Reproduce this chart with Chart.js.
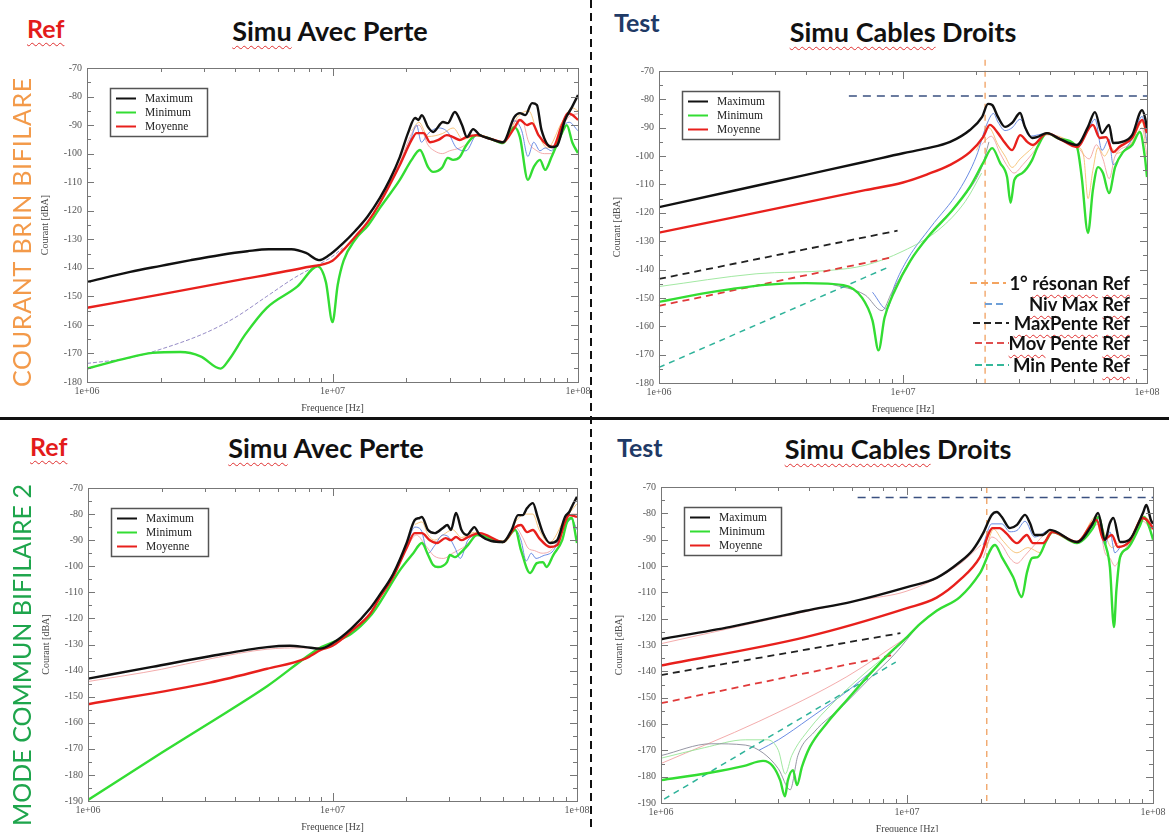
<!DOCTYPE html>
<html>
<head>
<meta charset="utf-8">
<script src="https://cdn.jsdelivr.net/npm/chart.js@4"></script>
<style>
  html, body { margin: 0; padding: 0; background: #fff; }
  body { width: 1169px; height: 832px; position: relative; overflow: hidden; font-family: Lato, "Open Sans", sans-serif; }
  .panel { position: absolute; }
  .txt { position: absolute; white-space: nowrap; font-weight: bold; transform: translateY(-50%); }
  .ctr { transform: translate(-50%, -50%); }
  .ttl { font-size: 27px; color: #111; }
  .ref { font-size: 25px; color: #e31b1b; }
  .tst { font-size: 25px; color: #1f3a66; }
  .sp { text-decoration: underline wavy #e03030; text-decoration-thickness: 1px; text-underline-offset: 4px; text-decoration-skip-ink: none; }
  .vert { position: absolute; white-space: nowrap; font-size: 25px; transform: translate(-50%, -50%) rotate(-90deg); }
  .leg { position: absolute; right: 39px; font-size: 18.5px; font-weight: bold; color: #111; transform: translateY(-50%); white-space: nowrap; }
  .smp { position: absolute; height: 2px; }
</style>
</head>
<body>

<div class="panel" id="p1"><canvas></canvas></div>
<div class="panel" id="p2"><canvas></canvas></div>
<div class="panel" id="p3"><canvas></canvas></div>
<div class="panel" id="p4"><canvas></canvas></div>

<!-- page decoration -->
<div style="position:absolute;left:0;top:417px;width:1169px;height:3px;background:#111"></div>
<div style="position:absolute;left:590px;top:0;width:2px;height:832px;background:repeating-linear-gradient(180deg,#111 0 8px,transparent 8px 13px)"></div>

<div class="txt ref" style="left:27px;top:28px"><span class="sp">Ref</span></div>
<div class="txt ttl ctr" style="left:330px;top:30px"><span class="sp">Simu</span> Avec Perte</div>
<div class="txt tst" style="left:614px;top:22px">Test</div>
<div class="txt ttl ctr" style="left:903px;top:31px"><span class="sp">Simu Cables</span> Droits</div>

<div class="txt ref" style="left:30px;top:446px"><span class="sp">Ref</span></div>
<div class="txt ttl ctr" style="left:326px;top:447px"><span class="sp">Simu</span> Avec Perte</div>
<div class="txt tst" style="left:617px;top:447px">Test</div>
<div class="txt ttl ctr" style="left:898px;top:448px"><span class="sp">Simu Cables</span> Droits</div>

<div class="vert" style="left:21px;top:232px;color:#f39a4a;letter-spacing:0.7px">COURANT BRIN BIFILARE</div>
<div class="vert" style="left:21px;top:655px;color:#1ea54c">MODE COMMUN BIFILAIRE 2</div>

<!-- reference-level legend, top right panel -->
<div class="smp" style="left:970px;top:282px;width:36px;background:repeating-linear-gradient(90deg,#f4a460 0 7px,transparent 7px 11px)"></div>
<div class="leg" style="top:283px">1° <span class="sp">résonan</span> <span class="sp">Ref</span></div>
<div class="smp" style="left:985px;top:303px;width:22px;background:repeating-linear-gradient(90deg,#6fa0d8 0 7px,transparent 7px 11px)"></div>
<div class="leg" style="top:304px"><span class="sp">Niv</span> Max <span class="sp">Ref</span></div>
<div class="smp" style="left:973px;top:322px;width:36px;background:repeating-linear-gradient(90deg,#222 0 7px,transparent 7px 11px)"></div>
<div class="leg" style="top:323px"><span class="sp">MaxPente</span> <span class="sp">Ref</span></div>
<div class="smp" style="left:975px;top:342px;width:34px;background:repeating-linear-gradient(90deg,#e05050 0 7px,transparent 7px 11px)"></div>
<div class="leg" style="top:343px"><span class="sp">Mov</span> Pente <span class="sp">Ref</span></div>
<div class="smp" style="left:975px;top:364px;width:34px;background:repeating-linear-gradient(90deg,#35b89a 0 7px,transparent 7px 11px)"></div>
<div class="leg" style="top:365px">Min Pente <span class="sp">Ref</span></div>

<script>
// frequencies in MHz, levels in dBA: [f, dB]

// --- Ref / Simu Avec Perte / Courant brin bifilaire ---
const brinRefMax = [[1,-145],[1.5,-141.4],[2,-139.3],[2.65,-137.3],[3.5,-135.5],[4.5,-134.2],[5.5,-133.5],[6.8,-133.5],[7.8,-134.8],[8.8,-137.3],[9.6,-135.8],[11,-131.5],[12.4,-127],[13.9,-122],[15.6,-115.5],[17.1,-109.2],[18.8,-101.2],[20.3,-92.8],[21.7,-87.5],[22.4,-88.2],[23.1,-86.5],[24.5,-90.7],[25.7,-92.4],[28.2,-88.9],[29.5,-89.3],[31.5,-85.4],[33.7,-90],[35.3,-94.2],[37.4,-91.4],[39.8,-93.5],[44,-94.8],[49.5,-96],[55,-87.2],[58,-85.8],[61,-86.5],[65,-82.3],[68,-83],[71,-91.7],[78,-97.7],[82,-97.3],[88.5,-88.2],[94.5,-83.7],[100,-79.5]];
const brinRefMin = [[1,-175.3],[1.4,-172],[1.85,-169.8],[2.4,-169.5],[2.9,-171],[3.5,-175.3],[3.8,-172],[4.4,-163.5],[5.4,-154],[7.2,-146.5],[8.7,-139.5],[9.4,-145],[10,-159],[10.5,-146],[11.1,-137.5],[12.4,-130],[14,-125],[15.6,-119],[18.8,-109.2],[21,-102.2],[22.7,-98.7],[24.5,-104.7],[25.7,-106.4],[27.9,-105],[29.5,-101.5],[31,-102.2],[33,-101.2],[34.7,-97.7],[37,-94.5],[38.7,-93.5],[44,-94.8],[49.5,-96.3],[55,-90.7],[58,-94.2],[62.5,-109.2],[66,-104.7],[70,-102.2],[73.5,-105.7],[78,-101.2],[86,-92.8],[90,-90],[95,-96.3],[100,-99.8]];
const brinRefMoy = [[1,-154],[2,-149.3],[4,-144.5],[7.8,-139.8],[10,-137.5],[11,-134],[12.4,-129],[13.9,-124],[15.6,-117.3],[18.8,-104],[21,-95.2],[22,-92.8],[23.5,-92.8],[25,-96],[27,-95.2],[29.2,-93.5],[31,-94.2],[33,-95.2],[35,-94.2],[38.7,-93.5],[44,-94.8],[49.5,-96],[55,-91],[58,-88.2],[62,-90],[65,-89.3],[69,-93.5],[75,-97],[79,-97.7],[86,-90],[91,-85.8],[95,-86.5],[100,-88.2]];
const brinRefLow = [[1,-173.5],[1.5,-171.5],[2,-168.5],[3,-163],[4,-157.5],[5.4,-150],[7,-143.5],[8.7,-139],[10,-136],[11,-133]];
const brinRefBlue = [[15.6,-117],[18.8,-104],[21,-94],[22,-90],[23,-96],[24.5,-93],[27,-91],[29.5,-92.5],[32,-98],[35,-99],[38.7,-93.5],[49.5,-96],[55,-88.5],[59,-92],[62.5,-101],[66,-96],[70,-99],[73.5,-98],[78,-99],[86,-91],[92,-89],[100,-92]];
const brinRefPink = [[15.6,-116],[18.8,-103],[21,-93],[22.5,-90],[24.5,-97],[26,-99],[28,-100],[30,-99],[33,-98],[36,-96],[38.7,-93.5],[49.5,-96],[55,-89],[59,-88],[63,-96],[68,-99],[73,-100],[78,-100],[86,-91],[92,-87],[100,-86]];
const brinRefOrange = [[21,-92],[22.5,-89],[24.5,-94],[28,-93],[31,-91],[34,-95],[38.7,-93.5],[49.5,-96],[57,-87],[63,-85],[68,-92],[75,-98],[86,-89],[95,-84],[100,-85]];

// --- Test / Simu Cables Droits / Courant brin bifilaire ---
const brinTestMax = [[1,-118],[2,-112.3],[4,-106.6],[7,-102],[10,-99],[12.5,-97.3],[15.6,-95],[18.8,-90.8],[21.1,-86.2],[22.3,-81.6],[23.2,-82],[24.5,-86.2],[26.2,-89.7],[28,-88.3],[30.2,-84.8],[31.6,-89.7],[33.8,-93.6],[35.4,-93.3],[38.9,-91.9],[44,-94],[51.6,-96.1],[57.3,-89.7],[61.2,-84.5],[65.4,-91.9],[69.9,-89],[72.6,-95.4],[79,-95],[86.9,-92.6],[95.5,-83.8],[98,-86.2],[100,-90.1]];
const brinTestMin = [[1,-151.4],[1.5,-148.5],[2,-146.8],[2.8,-145.3],[4,-144.8],[5.7,-145.5],[6.8,-150],[7.5,-158],[7.94,-168.5],[8.4,-157],[9.3,-147],[10.7,-137],[12.8,-128],[15.6,-120],[18.8,-110.9],[21.3,-102.4],[23.2,-97.2],[25,-102.4],[26.7,-107.4],[27.6,-116.5],[28.6,-108.4],[30.8,-106],[33.8,-101.4],[35.6,-96.8],[38.9,-91.9],[44,-94],[51.6,-96.8],[54,-107.4],[57.3,-127.1],[60,-112],[63,-103.9],[66,-106],[69.9,-113],[74,-103.9],[79.7,-98.6],[86.9,-96.1],[93.5,-91.5],[98,-100.3],[100,-107.4]];
const brinTestMoy = [[1,-127],[2,-121.7],[4,-116.3],[7,-112],[10,-109.3],[12.5,-106.5],[15.6,-103.1],[18.8,-98.6],[21.3,-93.3],[22.7,-89],[24.5,-91.9],[26.2,-95.4],[28,-97.9],[30.2,-92.6],[32.3,-95],[34,-96.1],[38.9,-91.9],[44,-94],[51.6,-96.8],[60,-89],[64,-93.6],[68,-93.3],[72.6,-98.6],[77,-96.8],[86.9,-93.6],[95.5,-87.3],[100,-91.9]];
const brinTestLtGreen = [[1,-146],[2.5,-141.5],[5,-140.3],[7,-138.5],[10,-133.5],[14,-126],[18,-116],[21,-106]];
const brinTestGrey = [[5,-145],[7,-149],[8.2,-154.5],[9,-148],[10.5,-138],[13,-127],[17,-116],[21,-104],[22.5,-95]];
const brinTestBlue = [[7.5,-148],[8.6,-154],[9.2,-146],[10.5,-136],[13,-125],[17,-112],[20,-100],[22,-89],[23.5,-85],[24.5,-88],[26.2,-91],[28,-90],[30.2,-87],[33,-93],[38.9,-92],[51.6,-96.2],[57.3,-91],[61.2,-87],[65.4,-98],[69.9,-94],[72.6,-103],[79,-99],[86.9,-94],[95.5,-86],[100,-95]];
const brinTestOrange = [[20,-98],[22.5,-90],[24.5,-96],[26.2,-100],[28,-104],[30.2,-101],[33,-98],[36,-95],[38.9,-92.3],[51.6,-96.5],[55,-100],[57.3,-115],[60,-105],[63,-97],[67,-100],[71,-97],[75,-99],[86.9,-95],[95.5,-88],[100,-96]];
const brinTestPink = [[21,-96],[23,-93],[25,-99],[27,-104],[28.5,-106],[31,-103],[34,-99],[38.9,-92.5],[51.6,-96.6],[58,-101],[62,-96],[66,-101],[70,-108],[74,-100],[86.9,-95.5],[95.5,-90],[100,-100]];
const brinSlopeMax = [[1,-143.3],[9.5,-126.3]];
const brinSlopeMoy = [[1,-152.8],[9,-135.7]];
const brinSlopeMin = [[1,-174.5],[8.8,-139]];
const brinLevelMax = [[6,-78.8],[100,-78.8]];
const brinResonance = [[21.7,-66],[21.7,-180]];

// --- Ref / Simu Avec Perte / Mode commun bifilaire 2 ---
const modeRefMax = [[1,-143.1],[1.83,-138.6],[3.15,-134.5],[5.4,-131],[6.7,-130.5],[7.75,-131],[8.9,-131.6],[10,-129.5],[11.9,-124],[14.3,-116],[15.6,-111],[17.7,-103],[20.1,-91.1],[21.7,-82.3],[22.7,-81.5],[23.2,-81.1],[24.6,-86.1],[26.2,-87.3],[28.3,-85.3],[29.5,-84.2],[30.5,-86.1],[32,-79.6],[33.7,-86.1],[35.5,-88],[37,-86.1],[38,-85],[40,-88],[49.8,-90.7],[54,-86.1],[57.4,-80.4],[60,-80.4],[62.5,-77.7],[66,-75.8],[69,-81.1],[72.6,-87.3],[77.6,-91.1],[83,-90],[89.3,-81.1],[93,-79.2],[96,-76.5],[100,-73.4]];
const modeRefMin = [[1,-189.6],[2,-171.5],[3.15,-160],[5.4,-146],[9,-131],[10,-129.2],[11.9,-126],[14.3,-119],[15.6,-114],[18.9,-101.4],[21.4,-95],[23.2,-91.1],[24.6,-95.7],[25.8,-99.5],[27,-100.3],[29.4,-98.4],[30.2,-95.7],[31.7,-96.5],[33.3,-95],[35.8,-91.9],[39,-88],[49.8,-90.7],[56,-86.1],[59,-93.8],[64.3,-102.6],[68.5,-98.8],[72.6,-98.4],[75,-100.3],[80,-95.7],[87,-90],[91,-83],[95,-81.5],[100,-91.1]];
const modeRefMoy = [[1,-152.9],[3.15,-144.6],[5.4,-139.3],[7.75,-135.4],[9,-132],[10,-130.5],[11.9,-125],[14.3,-118],[15.6,-112],[17.7,-104],[20.1,-93],[21.7,-87.3],[23.2,-87.3],[25,-90],[26.7,-91.1],[29,-89.2],[30.5,-90],[32,-88.8],[33.7,-90],[35.8,-88.8],[40,-87.3],[49.8,-90.7],[56,-85],[59,-84.2],[62.5,-86.9],[66,-86.1],[70,-89.2],[77.6,-92.6],[83,-91.9],[89,-83.4],[93,-80.4],[100,-81.1]];
const modeRefPinkLow = [[1,-144.2],[2,-139.5],[3.15,-135.5],[5.4,-131.8],[7.5,-131.3],[9,-131.3]];
const modeRefBlue = [[20.1,-92],[21.7,-85],[23,-86],[24.6,-95],[26.2,-92],[28.3,-88],[30,-89],[31.7,-93],[33.3,-97],[35.8,-90],[40,-88],[49.8,-90.7],[56,-86],[59,-90],[62,-98],[65,-95],[68,-97],[72.6,-96],[80,-94],[89,-85],[95,-82],[100,-86]];
const modeRefPink = [[20.1,-93],[22,-88],[24,-92],[26,-96],[28.5,-97],[31,-95],[34,-93],[40,-88],[49.8,-90.7],[56,-85],[60,-89],[63,-93],[67,-94],[72,-95],[80,-93],[89,-84],[95,-80],[100,-80]];
const modeRefOrange = [[21.7,-84],[23.2,-83],[24.6,-88],[26.2,-90],[28.3,-88],[31,-86],[33.7,-89],[38,-87],[49.8,-90.7],[57,-82],[62,-80],[66,-80],[70,-86],[77,-91],[89,-82],[100,-76]];

// --- Test / Simu Cables Droits / Mode commun bifilaire 2 ---
const modeTestMax = [[1,-127.8],[1.92,-123.1],[3.87,-117],[6,-113.5],[10,-108],[13.2,-104.5],[16.4,-98.5],[18.5,-93.9],[20.4,-87.5],[22.1,-80.6],[23.2,-79.5],[24.3,-81.4],[26.2,-85.6],[28,-84.4],[30.2,-80.6],[31.6,-83.7],[33.1,-88.2],[35.7,-88.2],[38.1,-86.3],[49.1,-90.9],[56.5,-84.4],[59.8,-79.9],[63.8,-90.1],[66.8,-83.7],[69,-81.8],[73.5,-90.9],[80,-90.1],[91,-79.9],[94,-76.8],[98,-82.5],[100,-84]];
const modeTestMin = [[1,-181.3],[1.58,-178.5],[2.16,-176],[2.6,-174],[2.85,-176],[3.05,-181.3],[3.19,-187.5],[3.28,-181.3],[3.44,-177.5],[3.57,-183.2],[3.74,-176.3],[4.03,-168.7],[4.73,-159.6],[5.7,-150.9],[6.88,-142.2],[8.3,-134],[10,-127],[11.3,-122],[13.2,-117],[16.4,-111.8],[19.8,-102.7],[22.8,-92],[24.3,-96.6],[27,-104.2],[29.3,-111.8],[30.7,-102.7],[32.2,-97],[34,-96.6],[37,-90.1],[39,-87.1],[49.1,-91.3],[57,-85.6],[60,-81.4],[63.8,-91.3],[66.8,-100.4],[69.4,-123.2],[71,-109.1],[73.5,-96.6],[79,-93.2],[88,-85.2],[92,-81.4],[98,-87.1],[100,-90]];
const modeTestMoy = [[1,-137.8],[3.87,-127],[10,-116],[13.2,-112],[16.4,-105.3],[19.8,-96.6],[22.3,-85.6],[23.8,-85.6],[25.3,-87.5],[28,-91.3],[30.7,-88.2],[32.5,-91.3],[35.7,-91.3],[39,-87.1],[49.1,-90.9],[59,-82.5],[63,-90.1],[68,-88.2],[72,-92.8],[80,-90.9],[91,-81.8],[98,-84.4],[100,-86]];
const modeTestPinkHigh = [[1,-129.5],[6.4,-113],[10,-109.5],[16,-100],[20,-92]];
const modeTestGrey = [[1,-172],[1.6,-167.5],[2.2,-168],[2.6,-171],[3.0,-177],[3.35,-185],[3.6,-172],[4.2,-163],[5.5,-153],[7,-143],[9,-133],[11,-123]];
const modeTestLtGreen = [[1,-173],[1.5,-169],[2.2,-166],[2.7,-166],[3.0,-170],[3.2,-179],[3.4,-172],[4,-162],[5,-152],[6.5,-142],[8.5,-133]];
const modeTestPinkLow = [[1,-175],[2.5,-159],[5.7,-142],[10,-127]];
const modeTestBlueLow = [[2.5,-170],[3,-166],[4,-158],[6,-146],[8,-136],[10,-127]];
const modeTestBlue = [[20.4,-92],[22.1,-84],[24.3,-84],[26.2,-87],[28,-86.5],[30.2,-83],[33,-89],[38.1,-86.5],[49.1,-90.9],[56.5,-85],[60,-82],[63.8,-92],[66.8,-87],[70,-95],[73.5,-93],[80,-90.5],[91,-82],[98,-85]];
const modeTestPink = [[20.4,-97],[22.1,-89],[24.3,-92],[26.2,-97],[28,-99],[30.2,-96],[33,-92],[38.1,-87],[49.1,-91],[56.5,-86],[60,-84],[63.8,-95],[66.8,-97],[70,-100],[73.5,-97],[80,-91],[91,-83],[98,-86]];
const modeTestOrange = [[21,-93],[22.5,-86],[24.3,-90],[28,-95],[31,-93],[35,-95],[38.1,-87],[49.1,-90.9],[59,-81],[63.8,-88],[68,-93],[73,-91],[80,-90],[91,-81],[98,-83]];
const modeSlopeMax = [[1,-141.4],[9.4,-125.5]];
const modeSlopeMoy = [[1,-152.1],[8.8,-133.8]];
const modeSlopeMin = [[1.03,-188.5],[9,-136.5]];
const modeLevelMax = [[6.3,-74],[100,-74]];
const modeResonance = [[21.1,-70],[21.1,-190]];

const legendItems = [["Maximum", "#111"], ["Minimum", "#33dd33"], ["Moyenne", "#e8201c"]];
const decadeTicks = [1e6, 1e7, 1e8];

const SERIF = '"Liberation Serif", "DejaVu Serif", serif';
const C = { max: "#111", min: "#33dd33", moy: "#e8201c", blue: "#5a7fe0", pink: "#f2a3a3", orange: "#f5c070", grey: "#8a8a9a", ltgreen: "#97e597", purple: "#8a7fc0" };

function curve(points, color, width, order, dash, straight) {
  return {
    data: points.map(([f, v]) => ({ x: f * 1e6, y: v })),
    borderColor: color,
    borderWidth: width,
    borderDash: dash || [],
    pointRadius: 0,
    fill: false,
    order: order,
    tension: 0,
    cubicInterpolationMode: straight ? "default" : "monotone",
    clip: straight ? false : undefined,
  };
}
const thick = (p, c) => curve(p, c, 2.4, c === C.max ? 1 : c === C.moy ? 2 : 3);
const thin = (p, c, dash) => curve(p, c, 0.9, 6, dash);
const dashed = (p, c, w, dash) => curve(p, c, w, 4, dash, true);

const framePlugin = {
  id: "frame",
  afterDraw(chart) {
    const ctx = chart.ctx;
    const { left, right, top, bottom } = chart.chartArea;
    const xs = chart.scales.x, ys = chart.scales.y;
    ctx.save();
    ctx.strokeStyle = "#777";
    ctx.lineWidth = 1;
    ctx.strokeRect(left + 0.5, top + 0.5, right - left, bottom - top);
    ctx.beginPath();
    for (let v = ys.min; v <= ys.max; v += 5) {
      const py = Math.round(ys.getPixelForValue(v)) + 0.5;
      const len = v % 10 === 0 ? 7 : 4;
      ctx.moveTo(left, py); ctx.lineTo(left + len, py);
      ctx.moveTo(right, py); ctx.lineTo(right - len, py);
    }
    [1e6, 1e7].forEach(d => {
      for (let k = 1; k <= 10; k++) {
        const px = Math.round(xs.getPixelForValue(k * d)) + 0.5;
        const len = (k === 1 || k === 10) ? 8 : 4;
        ctx.moveTo(px, bottom); ctx.lineTo(px, bottom - len);
        ctx.moveTo(px, top); ctx.lineTo(px, top + len);
      }
    });
    ctx.stroke();

    // axis titles
    ctx.fillStyle = "#444";
    ctx.font = "10px " + SERIF;
    ctx.textAlign = "center";
    ctx.textBaseline = "middle";
    ctx.fillText("Frequence [Hz]", (left + right) / 2, bottom + 26);
    ctx.translate(left - 42, (top + bottom) / 2);
    ctx.rotate(-Math.PI / 2);
    ctx.fillText("Courant [dBA]", 0, 0);
    ctx.setTransform(1, 0, 0, 1, 0, 0);

    // legend box
    const bx = left + 23, by = top + 20;
    ctx.strokeStyle = "#555";
    ctx.lineWidth = 1.5;
    ctx.fillStyle = "#fff";
    ctx.fillRect(bx, by, 98, 49);
    ctx.strokeRect(bx + 0.5, by + 0.5, 97, 48);
    ctx.font = "11.5px " + SERIF;
    ctx.textAlign = "left";
    legendItems.forEach(([label, color], i) => {
      const yy = by + 10.5 + i * 14;
      ctx.strokeStyle = color;
      ctx.lineWidth = 2;
      ctx.beginPath();
      ctx.moveTo(bx + 6, yy); ctx.lineTo(bx + 26, yy);
      ctx.stroke();
      ctx.fillStyle = "#222";
      ctx.fillText(label, bx + 35, yy);
    });
    ctx.restore();
  }
};

function panel(id, box, yMin, datasets) {
  const el = document.getElementById(id);
  el.style.left = (box.l - 60) + "px";
  el.style.top = (box.t - 14) + "px";
  el.style.width = (box.r - box.l + 78) + "px";
  el.style.height = (box.b - box.t + 48) + "px";
  new Chart(el.querySelector("canvas"), {
    type: "line",
    data: { datasets },
    options: {
      responsive: true,
      maintainAspectRatio: false,
      animation: false,
      layout: { padding: { top: 14, right: 18, left: 0, bottom: 0 } },
      plugins: { legend: { display: false }, tooltip: { enabled: false } },
      scales: {
        x: {
          type: "logarithmic",
          min: 1e6,
          max: 1e8,
          afterBuildTicks: s => { s.ticks = decadeTicks.map(v => ({ value: v })); },
          afterFit: s => { s.height = 34; },
          grid: { display: false, drawTicks: false },
          border: { display: false },
          ticks: {
            autoSkip: false, maxRotation: 0, padding: 3, color: "#555",
            font: { family: SERIF, size: 10 },
            callback: v => "1e+" + String(Math.round(Math.log10(v))).padStart(2, "0"),
          },
        },
        y: {
          type: "linear",
          min: yMin,
          max: -70,
          afterFit: s => { s.width = 60; },
          grid: { display: false, drawTicks: false },
          border: { display: false },
          ticks: { stepSize: 10, padding: 5, color: "#555", font: { family: SERIF, size: 10 } },
        },
      },
    },
    plugins: [framePlugin],
  });
}

panel("p1", { l: 87, t: 68, r: 578, b: 382 }, -180, [
  thick(brinRefMax, C.max), thick(brinRefMoy, C.moy), thick(brinRefMin, C.min),
  thin(brinRefLow, C.purple, [4, 2]), thin(brinRefBlue, C.blue), thin(brinRefPink, C.pink), thin(brinRefOrange, C.orange),
]);

panel("p2", { l: 659, t: 71, r: 1147, b: 383 }, -180, [
  thick(brinTestMax, C.max), thick(brinTestMoy, C.moy), thick(brinTestMin, C.min),
  thin(brinTestLtGreen, C.ltgreen), thin(brinTestGrey, C.grey), thin(brinTestBlue, C.blue),
  thin(brinTestOrange, C.orange), thin(brinTestPink, C.pink),
  dashed(brinSlopeMax, "#222", 1.8, [7, 5]), dashed(brinSlopeMoy, "#e03a3a", 1.8, [7, 5]),
  dashed(brinSlopeMin, "#2fb39a", 1.5, [6, 5]), dashed(brinLevelMax, "#3a5080", 1.6, [8, 6]),
  dashed(brinResonance, "#f0a060", 1.3, [6, 5]),
]);

panel("p3", { l: 88, t: 488, r: 577, b: 801 }, -190, [
  thick(modeRefMax, C.max), thick(modeRefMoy, C.moy), thick(modeRefMin, C.min),
  thin(modeRefPinkLow, C.pink), thin(modeRefBlue, C.blue), thin(modeRefPink, C.pink), thin(modeRefOrange, C.orange),
]);

panel("p4", { l: 661, t: 487, r: 1153, b: 803 }, -190, [
  thick(modeTestMax, C.max), thick(modeTestMoy, C.moy), thick(modeTestMin, C.min),
  thin(modeTestPinkHigh, C.pink), thin(modeTestGrey, C.grey), thin(modeTestLtGreen, C.ltgreen),
  thin(modeTestPinkLow, C.pink), thin(modeTestBlueLow, C.blue),
  thin(modeTestBlue, C.blue), thin(modeTestPink, C.pink), thin(modeTestOrange, C.orange),
  dashed(modeSlopeMax, "#222", 1.8, [7, 5]), dashed(modeSlopeMoy, "#e03a3a", 1.8, [7, 5]),
  dashed(modeSlopeMin, "#2fb39a", 1.5, [6, 5]), dashed(modeLevelMax, "#3a5080", 1.6, [8, 6]),
  dashed(modeResonance, "#f0a060", 1.3, [6, 5]),
]);
</script>
</body>
</html>
